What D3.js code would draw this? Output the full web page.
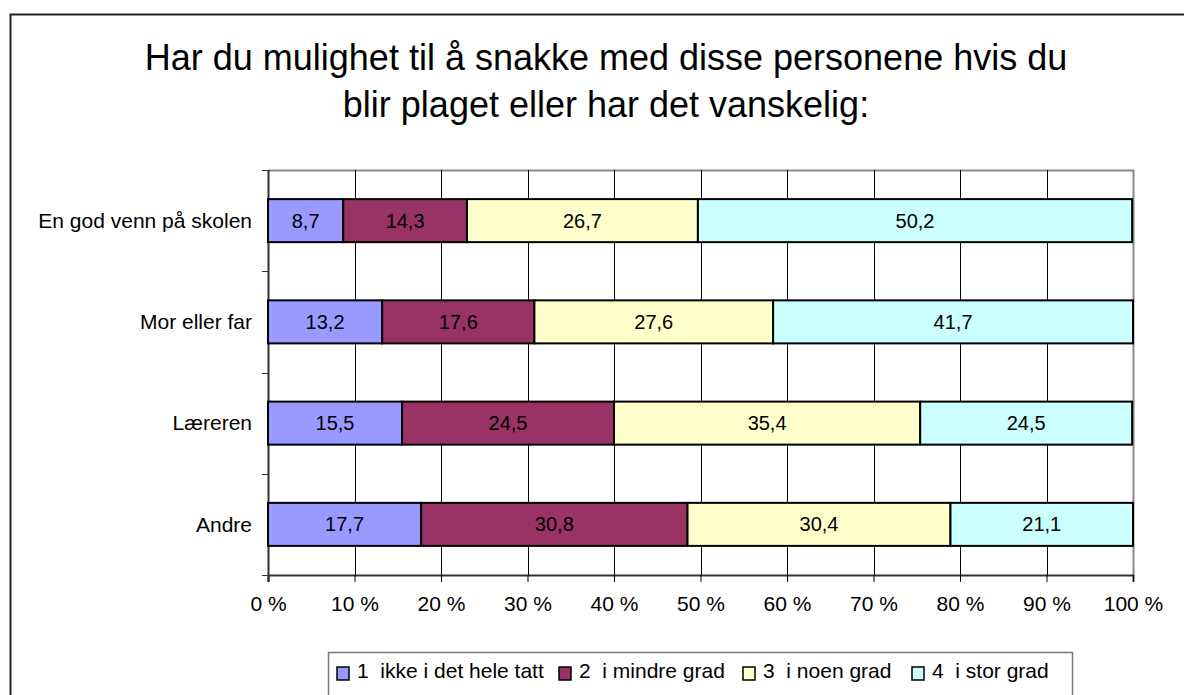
<!DOCTYPE html>
<html>
<head>
<meta charset="utf-8">
<script src="https://cdn.jsdelivr.net/npm/d3@7"></script>
<style>
  body { margin: 0; background: #fff; }
  svg { display: block; font-family: "Liberation Sans", Arial, sans-serif; }
</style>
</head>
<body>
<div id="chart"></div>
<script>
// data
var categories = ["En god venn på skolen", "Mor eller far", "Læreren", "Andre"];
var seriesNames = ["1  ikke i det hele tatt", "2  i mindre grad", "3  i noen grad", "4  i stor grad"];
var ikkeIDetHeleTatt = [8.7, 13.2, 15.5, 17.7];
var iMindreGrad = [14.3, 17.6, 24.5, 30.8];
var iNoenGrad = [26.7, 27.6, 35.4, 30.4];
var iStorGrad = [50.2, 41.7, 24.5, 21.1];
var xTicks = [0, 10, 20, 30, 40, 50, 60, 70, 80, 90, 100];
var titleLines = ["Har du mulighet til å snakke med disse personene hvis du", "blir plaget eller har det vanskelig:"];

var allSeries = [ikkeIDetHeleTatt, iMindreGrad, iNoenGrad, iStorGrad];
var colors = ["#9999ff", "#993366", "#ffffcc", "#ccffff"];

var W = 1184, H = 695;
var margin = { top: 170, right: 51, bottom: 120, left: 268 },
  width = W - margin.left - margin.right,
  height = H - margin.top - margin.bottom;

var svg = d3.select("#chart").append("svg").attr("width", W).attr("height", H);

// outer frame
svg.append("rect")
  .attr("x", 10.5).attr("y", 14.5)
  .attr("width", W + 20).attr("height", H + 20)
  .attr("fill", "none").attr("stroke", "#222").attr("stroke-width", 2);

// title
svg.append("g").selectAll("text")
  .data(titleLines)
  .enter()
  .append("text")
  .attr("x", 606)
  .attr("y", function (d, i) { return 70 + i * 47; })
  .attr("text-anchor", "middle")
  .attr("font-size", "36px")
  .attr("fill", "#000")
  .text(function (d) { return d; });

var g = svg.append("g").attr("transform", "translate(" + margin.left + "," + margin.top + ")");

var x = d3.scaleLinear().domain([0, 100]).range([0, width]);
var y = d3.scaleBand().domain(categories).range([0, height]).paddingInner(0.575).paddingOuter(0.2875);
var band = d3.scaleBand().domain(categories).range([0, height]);

// plot border (top/right gray)
g.append("path")
  .attr("d", "M0,0.5H" + (width + 0.5) + "V" + height)
  .attr("fill", "none").attr("stroke", "#888").attr("stroke-width", 2);

// vertical gridlines
g.append("g").selectAll("line")
  .data(xTicks.slice(1, -1))
  .enter()
  .append("line")
  .attr("x1", function (d) { return Math.round(x(d)) + 0.5; })
  .attr("x2", function (d) { return Math.round(x(d)) + 0.5; })
  .attr("y1", 0).attr("y2", height)
  .attr("stroke", "#000").attr("stroke-width", 1);

// x axis
var xAxis = g.append("g")
  .attr("transform", "translate(0," + height + ")")
  .call(d3.axisBottom(x).tickValues(xTicks).tickSize(7).tickPadding(14)
    .tickFormat(function (d) { return d + " %"; }));
xAxis.select(".domain").attr("stroke", "#333").attr("stroke-width", 2);
xAxis.selectAll(".tick line").attr("stroke", "#000");
xAxis.selectAll("text").attr("font-size", "21px").attr("fill", "#000")
  .attr("font-family", "Liberation Sans, Arial, sans-serif");

// y axis line with ticks at category boundaries
g.append("line")
  .attr("x1", 0.5).attr("x2", 0.5).attr("y1", 0).attr("y2", height + 7)
  .attr("stroke", "#333").attr("stroke-width", 2);
var boundaries = categories.map(function (c) { return band(c); }).concat([height]);
g.append("g").selectAll("line")
  .data(boundaries)
  .enter()
  .append("line")
  .attr("x1", -6).attr("x2", 0)
  .attr("y1", function (d) { return Math.round(d) + 0.5; })
  .attr("y2", function (d) { return Math.round(d) + 0.5; })
  .attr("stroke", "#333").attr("stroke-width", 1);

// category labels
g.append("g").selectAll("text")
  .data(categories)
  .enter()
  .append("text")
  .attr("x", -16)
  .attr("y", function (d) { return y(d) + y.bandwidth() / 2; })
  .attr("dy", "0.35em")
  .attr("text-anchor", "end")
  .attr("font-size", "21px")
  .text(function (d) { return d; });

// stacked bars
var rows = categories.map(function (c, i) {
  var acc = 0;
  return allSeries.map(function (s, k) {
    var seg = { cat: c, k: k, x0: acc, x1: acc + s[i], v: s[i] };
    acc += s[i];
    return seg;
  });
});

var rowG = g.append("g").selectAll("g")
  .data(rows)
  .enter()
  .append("g");

rowG.selectAll("rect")
  .data(function (d) { return d; })
  .enter()
  .append("rect")
  .attr("x", function (d) { return x(d.x0); })
  .attr("y", function (d) { return y(d.cat); })
  .attr("width", function (d) { return x(Math.min(d.x1, 100)) - x(d.x0); })
  .attr("height", y.bandwidth())
  .attr("fill", function (d) { return colors[d.k]; })
  .attr("stroke", "#000")
  .attr("stroke-width", 2);

rowG.selectAll("text")
  .data(function (d) { return d; })
  .enter()
  .append("text")
  .attr("x", function (d) { return x((d.x0 + Math.min(d.x1, 100)) / 2); })
  .attr("y", function (d) { return y(d.cat) + y.bandwidth() / 2; })
  .attr("dy", "0.35em")
  .attr("text-anchor", "middle")
  .attr("font-size", "20px")
  .text(function (d) { return d3.format(".1f")(d.v).replace(".", ","); });

// legend
var legend = svg.append("g");
legend.append("rect")
  .attr("x", 328.5).attr("y", 652.5)
  .attr("width", 744).attr("height", 60)
  .attr("fill", "#fff").attr("stroke", "#777").attr("stroke-width", 1.5);

var legendX = [337, 559, 743, 912];
var item = legend.selectAll("g.item")
  .data(seriesNames)
  .enter()
  .append("g")
  .attr("class", "item")
  .attr("transform", function (d, i) { return "translate(" + legendX[i] + ",667)"; });
item.append("rect")
  .attr("width", 12).attr("height", 13)
  .attr("fill", function (d, i) { return colors[i]; })
  .attr("stroke", "#000").attr("stroke-width", 1.5);
item.append("text")
  .attr("x", 20).attr("y", 11)
  .attr("font-size", "21px")
  .attr("xml:space", "preserve")
  .style("white-space", "pre")
  .text(function (d) { return d; });
</script>
</body>
</html>
